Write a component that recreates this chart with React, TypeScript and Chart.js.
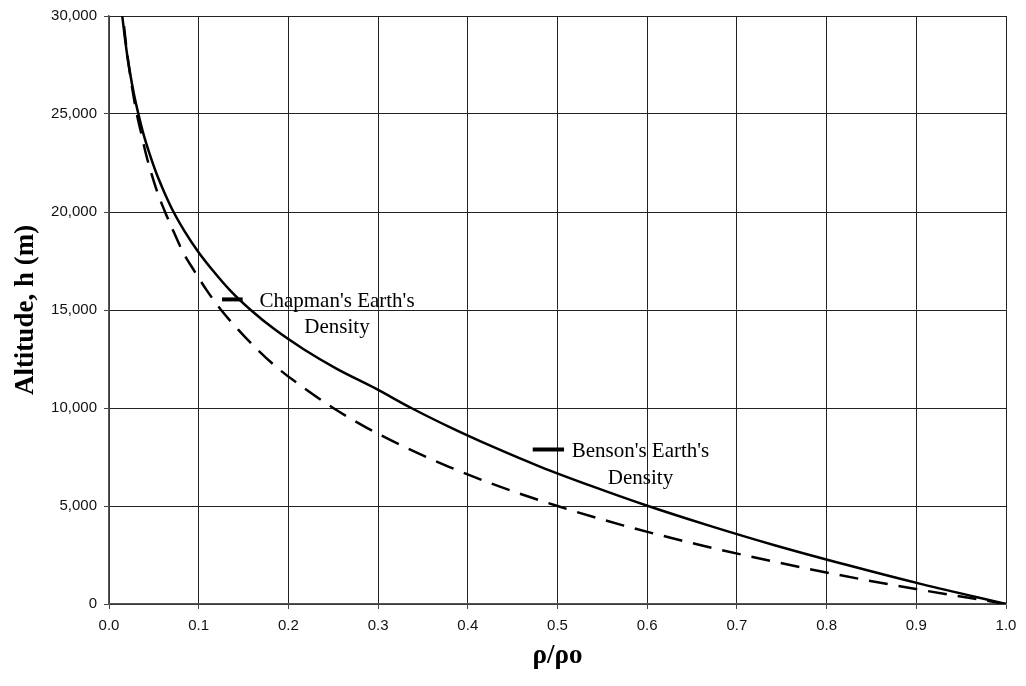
import React, { useEffect, useRef } from "react";
import { Chart, registerables } from "chart.js";

Chart.register(...registerables);

// Altitude (m) for each point
const altitudes = [
  0, 1000, 2000, 3000, 4000, 5000, 6000, 7000, 8000, 9000, 10000, 11000, 12000, 13000, 14000, 15000,
  16000, 17000, 18000, 19000, 20000, 21000, 22000, 23000, 24000, 25000, 26000, 27000, 28000, 29000, 30000,
];

// Benson's Earth's density ratio (solid line)
const bensonDensity = [
  1.0, 0.907, 0.822, 0.742, 0.669, 0.601, 0.539, 0.481, 0.429, 0.381, 0.337, 0.297, 0.254, 0.217, 0.185, 0.158,
  0.135, 0.116, 0.099, 0.0845, 0.072, 0.0617, 0.0526, 0.045, 0.0383, 0.0328, 0.0279, 0.0238, 0.0203, 0.0174, 0.0148,
];

// Chapman's Earth's density ratio (dashed line)
const chapmanDensity = [
  1.0, 0.87, 0.758, 0.66, 0.574, 0.5, 0.435, 0.379, 0.33, 0.287, 0.25, 0.218, 0.189, 0.165, 0.144, 0.125,
  0.109, 0.095, 0.082, 0.072, 0.0625, 0.054, 0.047, 0.041, 0.036, 0.031, 0.027, 0.0236, 0.0205, 0.0179, 0.0156,
];

const seriesNames = ["Benson's Earth's Density", "Chapman's Earth's Density"];
const xTitle = "ρ/ρo";
const yTitle = "Altitude, h (m)";

// In-plot labels: [line1, line2], anchored at (ρ, h) of the key dash start, text centre ρ
const chapmanLabel = { lines: ["Chapman's Earth's", "Density"], keyX: 0.126, keyX2: 0.149, keyY: 15540, textX: 0.2542, dashed: true };
const bensonLabel = { lines: ["Benson's Earth's", "Density"], keyX: 0.4724, keyX2: 0.5073, keyY: 7880, textX: 0.5925, dashed: false };

const labelPlugin = {
  id: "inPlotLabels",
  afterDatasetsDraw(chart: any) {
    const { ctx, scales } = chart;
    const xs = scales.x;
    const ys = scales.y;
    [chapmanLabel, bensonLabel].forEach((lab) => {
      const kx1 = xs.getPixelForValue(lab.keyX);
      const kx2 = xs.getPixelForValue(lab.keyX2);
      const ky = ys.getPixelForValue(lab.keyY);
      ctx.save();
      ctx.strokeStyle = "#000";
      ctx.lineWidth = 4;
      ctx.beginPath();
      ctx.moveTo(kx1, ky);
      ctx.lineTo(kx2, ky);
      ctx.stroke();
      ctx.fillStyle = "#000";
      ctx.font = "21px 'Liberation Serif', 'Times New Roman', serif";
      ctx.textAlign = "center";
      ctx.textBaseline = "alphabetic";
      const tx = xs.getPixelForValue(lab.textX);
      ctx.fillText(lab.lines[0], tx, ky + 7.5);
      ctx.fillText(lab.lines[1], tx, ky + 34);
      ctx.restore();
    });
  },
};

export default function App() {
  const canvasRef = useRef<HTMLCanvasElement | null>(null);

  useEffect(() => {
    if (!canvasRef.current) return;
    const benson = altitudes.map((h, i) => ({ x: bensonDensity[i], y: h }));
    const chapman = altitudes.map((h, i) => ({ x: chapmanDensity[i], y: h }));
    const chart = new Chart(canvasRef.current, {
      type: "scatter",
      data: {
        datasets: [
          {
            label: seriesNames[0],
            data: benson,
            showLine: true,
            borderColor: "#000",
            borderWidth: 2.5,
            pointRadius: 0,
            tension: 0.4,
            cubicInterpolationMode: "monotone",
          },
          {
            label: seriesNames[1],
            data: chapman,
            showLine: true,
            borderColor: "#000",
            borderWidth: 2.5,
            borderDash: [19, 11],
            pointRadius: 0,
            tension: 0.4,
            cubicInterpolationMode: "monotone",
          },
        ],
      },
      options: {
        responsive: false,
        animation: false,
        events: [],
        layout: { padding: { top: 15, right: 20, left: 0, bottom: 0 } },
        plugins: {
          legend: { display: false },
          tooltip: { enabled: false },
        },
        scales: {
          x: {
            type: "linear",
            min: 0,
            max: 1,
            afterFit: (s: any) => {
              s.height = 82;
            },
            ticks: {
              stepSize: 0.1,
              color: "#111",
              padding: 8,
              font: { family: "'Liberation Sans', Arial, sans-serif", size: 15 },
              callback: (v: any) => Number(v).toFixed(1),
            },
            grid: { color: "#222", lineWidth: 1, tickLength: 5, tickColor: "#444" },
            border: { color: "#555", width: 1.5 },
            title: {
              display: true,
              text: xTitle,
              color: "#000",
              font: { family: "'Liberation Serif', 'Times New Roman', serif", size: 27, weight: "bold" },
              padding: { top: 0, bottom: 14 },
            },
          },
          y: {
            type: "linear",
            min: 0,
            max: 30000,
            afterFit: (s: any) => {
              s.width = 109;
            },
            ticks: {
              stepSize: 5000,
              color: "#111",
              padding: 7,
              font: { family: "'Liberation Sans', Arial, sans-serif", size: 15 },
              callback: (v: any) => Number(v).toLocaleString("en-US"),
            },
            grid: { color: "#222", lineWidth: 1, tickLength: 5, tickColor: "#444" },
            border: { color: "#555", width: 1.5 },
            title: {
              display: true,
              text: yTitle,
              color: "#000",
              font: { family: "'Liberation Serif', 'Times New Roman', serif", size: 27, weight: "bold" },
              padding: { top: 10, bottom: 0 },
            },
          },
        },
      },
      plugins: [labelPlugin],
    });
    return () => chart.destroy();
  }, []);

  return (
    <div style={{ position: "fixed", left: 0, top: 0, width: 1026, height: 686, background: "#fff" }}>
      <canvas ref={canvasRef} width={1026} height={686} style={{ width: 1026, height: 686 }} />
    </div>
  );
}
